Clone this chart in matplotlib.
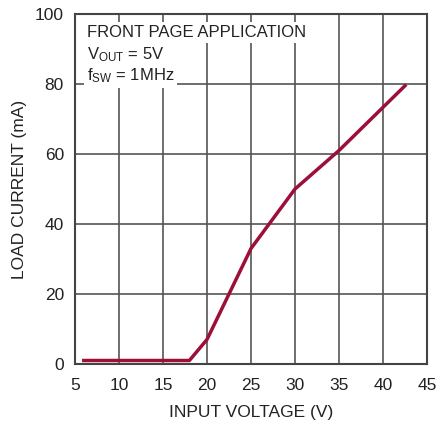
import matplotlib
matplotlib.use('Agg')
import matplotlib.pyplot as plt

# Data
vin = [6, 18, 20, 25, 30, 35, 42.5]
iload = [1, 1, 7, 33, 50, 61, 79.5]

xticks = [5, 10, 15, 20, 25, 30, 35, 40, 45]
yticks = [0, 20, 40, 60, 80, 100]

font = ['Liberation Sans Narrow', 'Liberation Sans', 'DejaVu Sans']
plt.rcParams['font.family'] = font
plt.rcParams['mathtext.fontset'] = 'custom'
plt.rcParams['mathtext.rm'] = 'Liberation Sans'
plt.rcParams['mathtext.it'] = 'Liberation Sans'

fig = plt.figure(figsize=(4.37, 4.23), dpi=100)
ax = fig.add_axes([75 / 437, 59 / 423, 352 / 437, 350 / 423])

ax.plot(vin, iload, color='#9b0f38', linewidth=2.5, zorder=3)

ax.set_xlim(5, 45)
ax.set_ylim(0, 100)
ax.set_xticks(xticks)
ax.set_yticks(yticks)
ax.grid(True, color='#555555', linewidth=1.2)
ax.set_axisbelow(True)
for s in ax.spines.values():
    s.set_color('#444444')
    s.set_linewidth(1.5)
ax.tick_params(length=0, labelsize=12.5, colors='#222222')
ax.tick_params(axis='x', pad=10)
ax.tick_params(axis='y', pad=8)

ax.set_xlabel('INPUT VOLTAGE (V)', fontsize=12.5, color='#222222', labelpad=9)
ax.set_ylabel('LOAD CURRENT (mA)', fontsize=12.5, color='#222222', labelpad=6)

box = dict(facecolor='white', edgecolor='none', pad=2)
lines = ['FRONT PAGE APPLICATION', r'V$_{\mathrm{OUT}}$ = 5V', r'f$_{\mathrm{SW}}$ = 1MHz']
for i, t in enumerate(lines):
    ax.text(0.033, 0.947 - i * 0.062, t, transform=ax.transAxes, fontsize=12,
            va='center', ha='left', color='#222222', bbox=box, zorder=4)

fig.savefig('out.png', dpi=100)
